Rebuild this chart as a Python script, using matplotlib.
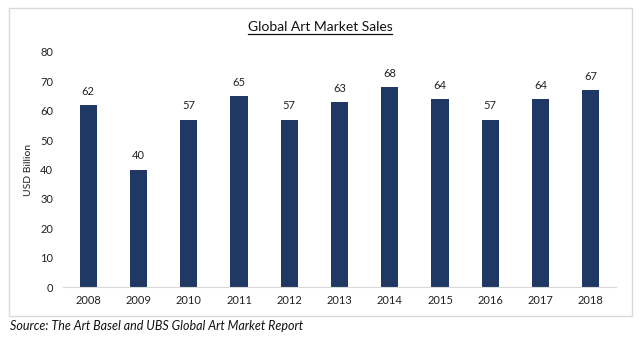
import matplotlib.pyplot as plt
from matplotlib.patches import Rectangle

# data
years = ['2008', '2009', '2010', '2011', '2012', '2013', '2014', '2015', '2016', '2017', '2018']
sales = [62, 40, 57, 65, 57, 63, 68, 64, 57, 64, 67]

plt.rcParams['font.family'] = ['Lato', 'DejaVu Sans']

W, H = 639, 338
fig = plt.figure(figsize=(W / 100, H / 100), dpi=100)
ax = fig.add_axes([63 / W, 1 - 287 / H, (616 - 63) / W, (287 - 52) / H])

bars = ax.bar(range(len(years)), sales, width=0.34, color='#1f3864')
for i, v in enumerate(sales):
    ax.annotate(str(v), (i, v), xytext=(0, 6), textcoords='offset points',
                ha='center', va='bottom', fontsize=8, color='#222222')

ax.set_xlim(-0.5, len(years) - 0.5)
ax.set_ylim(0, 80)
ax.set_yticks(range(0, 81, 10))
ax.set_xticks(range(len(years)))
ax.set_xticklabels(years)
ax.tick_params(length=0, labelsize=8, colors='#222222')
ax.tick_params(axis='y', pad=7)
ax.tick_params(axis='x', pad=6)
for s in ['top', 'right', 'left']:
    ax.spines[s].set_visible(False)
ax.spines['bottom'].set_color('#d9d9d9')
ax.set_ylabel('USD Billion', fontsize=7.5, color='#222222', labelpad=5)

# title, underlined to its own width
title = fig.text(320 / W, 1 - 27 / H, 'Global Art Market Sales', ha='center', va='center',
                 fontsize=10, color='#111111')
bb = title.get_window_extent(renderer=fig.canvas.get_renderer())
fig.add_artist(plt.Line2D([bb.x0 / W, bb.x1 / W], [1 - 34 / H, 1 - 34 / H],
                          color='#111111', lw=0.9))

# chart border
fig.add_artist(Rectangle((9 / W, 1 - 316 / H), (632 - 9) / W, (316 - 8) / H,
                         transform=fig.transFigure, fill=False,
                         edgecolor='#d9d9d9', lw=1))

fig.text(10 / W, 1 - 326 / H, 'Source: The Art Basel and UBS Global Art Market Report',
         ha='left', va='center', fontsize=9, style='italic', color='#111111')

fig.savefig('out.png', dpi=100)
